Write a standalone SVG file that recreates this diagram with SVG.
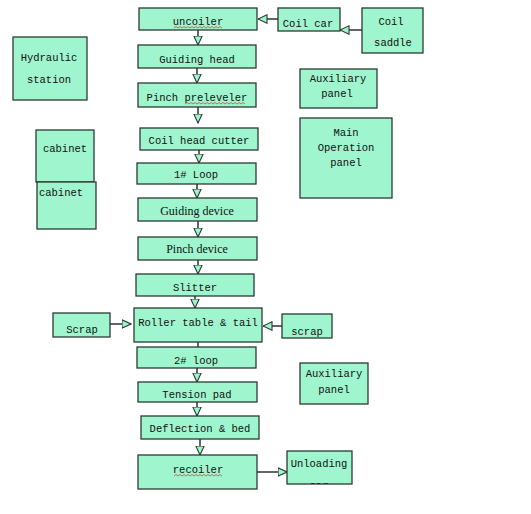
<svg xmlns="http://www.w3.org/2000/svg" width="531" height="514" viewBox="0 0 531 514">
<style>
.b{fill:#9ff5cd;stroke:#2b3b33;stroke-width:1.3}
.t{font-family:"Liberation Mono",monospace;font-size:10.5px;fill:#111;text-anchor:middle}
.s{font-family:"Liberation Serif",serif;font-size:12px;fill:#111;text-anchor:middle}
.c{stroke:#111;stroke-width:1.3;fill:none}
.w{stroke:#e04040;stroke-width:0.8;fill:none}
</style>
<defs>
<marker id="a" viewBox="0 0 10 10" refX="9.5" refY="5" markerWidth="10" markerHeight="10" markerUnits="userSpaceOnUse" orient="auto">
<path d="M0.5,0.8 L9.5,5 L0.5,9.2 Z" fill="#9ff5cd" stroke="#2b3b33" stroke-width="1.1"/>
</marker>
<clipPath id="uc"><rect x="287" y="451" width="65" height="33"/></clipPath>
</defs>
<rect width="531" height="514" fill="#fff"/>
<g id="connectors">
<line class="c" x1="198" y1="30" x2="198" y2="45" marker-end="url(#a)"/>
<line class="c" x1="197" y1="68" x2="197" y2="83" marker-end="url(#a)"/>
<line class="c" x1="198" y1="107" x2="198" y2="123" marker-end="url(#a)"/>
<line class="c" x1="199" y1="150" x2="199" y2="163" marker-end="url(#a)"/>
<line class="c" x1="197" y1="184" x2="197" y2="198" marker-end="url(#a)"/>
<line class="c" x1="198" y1="221" x2="198" y2="237" marker-end="url(#a)"/>
<line class="c" x1="198" y1="260" x2="198" y2="274" marker-end="url(#a)"/>
<line class="c" x1="195" y1="296" x2="195" y2="308" marker-end="url(#a)"/>
<line class="c" x1="198" y1="342" x2="198" y2="347"/>
<line class="c" x1="197" y1="368" x2="197" y2="382" marker-end="url(#a)"/>
<line class="c" x1="197" y1="402" x2="197" y2="416" marker-end="url(#a)"/>
<line class="c" x1="200" y1="439" x2="200" y2="455" marker-end="url(#a)"/>
<line class="c" x1="278" y1="19" x2="258" y2="19" marker-end="url(#a)"/>
<line class="c" x1="362" y1="30" x2="340" y2="30" marker-end="url(#a)"/>
<line class="c" x1="110" y1="324" x2="131" y2="324" marker-end="url(#a)"/>
<line class="c" x1="282" y1="326" x2="263" y2="326" marker-end="url(#a)"/>
<line class="c" x1="257" y1="472" x2="287" y2="472" marker-end="url(#a)"/>
</g>
<g id="uncoiler"><rect class="b" x="139" y="8" width="118" height="22"/><text class="t" x="198" y="25">uncoiler</text><path class="w" d="M174,28 l2,-1.5 l2,1.5 l2,-1.5 l2,1.5 l2,-1.5 l2,1.5 l2,-1.5 l2,1.5 l2,-1.5 l2,1.5 l2,-1.5 l2,1.5 l2,-1.5 l2,1.5 l2,-1.5 l2,1.5 l2,-1.5 l2,1.5 l2,-1.5 l2,1.5 l2,-1.5 l2,1.5 l2,-1.5 l2,1.5"/></g>
<g id="coil-car"><rect class="b" x="278" y="8" width="62" height="23"/><text class="t" x="308" y="27">Coil car</text></g>
<g id="coil-saddle"><rect class="b" x="362" y="8" width="61" height="45"/><text class="t" x="391" y="25">Coil</text><text class="t" x="393" y="46">saddle</text></g>
<g id="hydraulic-station"><rect class="b" x="13" y="37" width="74" height="63"/><text class="t" x="49" y="61">Hydraulic</text><text class="t" x="49" y="83">station</text></g>
<g id="guiding-head"><rect class="b" x="138" y="45" width="118" height="23"/><text class="t" x="197" y="63">Guiding head</text></g>
<g id="auxiliary-panel-1"><rect class="b" x="300" y="69" width="77" height="39"/><text class="t" x="338" y="82">Auxiliary</text><text class="t" x="337" y="97">panel</text></g>
<g id="pinch-preleveler"><rect class="b" x="138" y="83" width="118" height="24"/><text class="t" x="197" y="101">Pinch preleveler</text><path class="w" d="M185,104 l2,-1.5 l2,1.5 l2,-1.5 l2,1.5 l2,-1.5 l2,1.5 l2,-1.5 l2,1.5 l2,-1.5 l2,1.5 l2,-1.5 l2,1.5 l2,-1.5 l2,1.5 l2,-1.5 l2,1.5 l2,-1.5 l2,1.5 l2,-1.5 l2,1.5 l2,-1.5 l2,1.5 l2,-1.5 l2,1.5 l2,-1.5 l2,1.5 l2,-1.5 l2,1.5 l2,-1.5 l2,1.5"/></g>
<g id="main-operation-panel"><rect class="b" x="300" y="118" width="92" height="80"/><text class="t" x="346" y="136">Main</text><text class="t" x="346" y="151">Operation</text><text class="t" x="346" y="166">panel</text></g>
<g id="coil-head-cutter"><rect class="b" x="140" y="128" width="118" height="22"/><text class="t" x="199" y="144">Coil head cutter</text></g>
<g id="cabinet-1"><rect class="b" x="36" y="130" width="58" height="52"/><text class="t" x="65" y="152">cabinet</text></g>
<g id="cabinet-2"><rect class="b" x="37" y="182" width="59" height="47"/><text class="t" x="61" y="196">cabinet</text></g>
<g id="loop-1"><rect class="b" x="137" y="163" width="119" height="21"/><text class="t" x="196" y="178">1# Loop</text></g>
<g id="guiding-device"><rect class="b" x="138" y="198" width="119" height="23"/><text class="s" x="197" y="215">Guiding device</text></g>
<g id="pinch-device"><rect class="b" x="138" y="237" width="119" height="23"/><text class="s" x="197" y="253">Pinch device</text></g>
<g id="slitter"><rect class="b" x="136" y="274" width="118" height="22"/><text class="t" x="195" y="291">Slitter</text></g>
<g id="scrap-left"><rect class="b" x="53" y="313" width="57" height="24"/><text class="t" x="82" y="333">Scrap</text></g>
<g id="roller-table"><rect class="b" x="134" y="308" width="128" height="34"/><text class="t" x="198" y="326">Roller table &amp; tail</text></g>
<g id="scrap-right"><rect class="b" x="282" y="314" width="50" height="24"/><text class="t" x="307" y="335">scrap</text></g>
<g id="loop-2"><rect class="b" x="137" y="347" width="119" height="21"/><text class="t" x="196" y="364">2# loop</text></g>
<g id="auxiliary-panel-2"><rect class="b" x="300" y="363" width="68" height="41"/><text class="t" x="334" y="377">Auxiliary</text><text class="t" x="334" y="393">panel</text></g>
<g id="tension-pad"><rect class="b" x="138" y="382" width="119" height="20"/><text class="t" x="197" y="398">Tension pad</text></g>
<g id="deflection-bed"><rect class="b" x="141" y="416" width="118" height="23"/><text class="t" x="200" y="432">Deflection &amp; bed</text></g>
<g id="recoiler"><rect class="b" x="138" y="455" width="119" height="34"/><text class="t" x="198" y="473">recoiler</text><path class="w" d="M174,476 l2,-1.5 l2,1.5 l2,-1.5 l2,1.5 l2,-1.5 l2,1.5 l2,-1.5 l2,1.5 l2,-1.5 l2,1.5 l2,-1.5 l2,1.5 l2,-1.5 l2,1.5 l2,-1.5 l2,1.5 l2,-1.5 l2,1.5 l2,-1.5 l2,1.5 l2,-1.5 l2,1.5 l2,-1.5 l2,1.5"/></g>
<g id="unloading-car"><rect class="b" x="287" y="451" width="65" height="33"/><text class="t" x="319" y="467">Unloading</text><text class="t" x="319" y="488.5" clip-path="url(#uc)">car</text></g>
</svg>
